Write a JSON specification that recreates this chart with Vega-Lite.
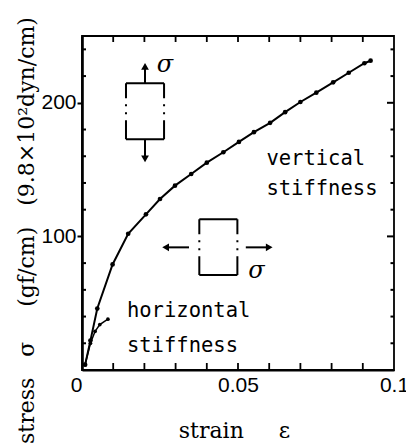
{
  "$schema": "https://vega.github.io/schema/vega-lite/v6.json",
  "autosize": {"type": "none"},
  "padding": {"left": 82, "top": 36, "right": 12, "bottom": 73},
  "width": 312,
  "height": 334,
  "background": "white",
  "config": {
    "view": {"stroke": "black", "strokeWidth": 1.8},
    "axis": {"grid": false, "tickColor": "black", "domainColor": "black", "labelColor": "black", "titleColor": "black"}
  },
  "datasets": {
    "vertical": [
      {"strain": 0.001, "stress": 4},
      {"strain": 0.0027, "stress": 22},
      {"strain": 0.0049, "stress": 46},
      {"strain": 0.0098, "stress": 79},
      {"strain": 0.0148, "stress": 102},
      {"strain": 0.0205, "stress": 116.5},
      {"strain": 0.025, "stress": 128},
      {"strain": 0.0298, "stress": 138},
      {"strain": 0.035, "stress": 146.7},
      {"strain": 0.04, "stress": 155.2},
      {"strain": 0.0453, "stress": 163},
      {"strain": 0.0503, "stress": 170.7},
      {"strain": 0.0551, "stress": 178},
      {"strain": 0.0603, "stress": 185},
      {"strain": 0.0651, "stress": 193},
      {"strain": 0.07, "stress": 200.6},
      {"strain": 0.0751, "stress": 207.6},
      {"strain": 0.0805, "stress": 215.3},
      {"strain": 0.0855, "stress": 222.5},
      {"strain": 0.0905, "stress": 229.6},
      {"strain": 0.0925, "stress": 231.5}
    ],
    "horizontal": [
      {"strain": 0.001, "stress": 4},
      {"strain": 0.0027, "stress": 20},
      {"strain": 0.0042, "stress": 29},
      {"strain": 0.0057, "stress": 34},
      {"strain": 0.0083, "stress": 38}
    ],
    "bottomTicks": [
      {"strain": 0.01, "stress": 0}, {"strain": 0.02, "stress": 0}, {"strain": 0.03, "stress": 0},
      {"strain": 0.04, "stress": 0}, {"strain": 0.05, "stress": 0}, {"strain": 0.06, "stress": 0},
      {"strain": 0.07, "stress": 0}, {"strain": 0.08, "stress": 0}, {"strain": 0.09, "stress": 0}
    ],
    "topTicks": [
      {"strain": 0.01, "stress": 250}, {"strain": 0.02, "stress": 250}, {"strain": 0.03, "stress": 250},
      {"strain": 0.04, "stress": 250}, {"strain": 0.05, "stress": 250}, {"strain": 0.06, "stress": 250},
      {"strain": 0.07, "stress": 250}, {"strain": 0.08, "stress": 250}, {"strain": 0.09, "stress": 250}
    ],
    "leftTicks": [
      {"strain": 0, "stress": 20}, {"strain": 0, "stress": 40}, {"strain": 0, "stress": 60},
      {"strain": 0, "stress": 80}, {"strain": 0, "stress": 120}, {"strain": 0, "stress": 140},
      {"strain": 0, "stress": 160}, {"strain": 0, "stress": 180}, {"strain": 0, "stress": 220},
      {"strain": 0, "stress": 240}
    ],
    "rightTicks": [
      {"strain": 0.1, "stress": 20}, {"strain": 0.1, "stress": 40}, {"strain": 0.1, "stress": 60},
      {"strain": 0.1, "stress": 80}, {"strain": 0.1, "stress": 120}, {"strain": 0.1, "stress": 140},
      {"strain": 0.1, "stress": 160}, {"strain": 0.1, "stress": 180}, {"strain": 0.1, "stress": 220},
      {"strain": 0.1, "stress": 240}
    ],
    "rightMajorTicks": [
      {"strain": 0.1, "stress": 100}, {"strain": 0.1, "stress": 200}
    ],
    "solidSegments": [
      {"xa": 0.0141, "ya": 214.6, "xb": 0.0263, "yb": 214.6},
      {"xa": 0.0141, "ya": 172.7, "xb": 0.0263, "yb": 172.7},
      {"xa": 0.0202, "ya": 214.6, "xb": 0.0202, "yb": 227},
      {"xa": 0.0202, "ya": 172.7, "xb": 0.0202, "yb": 158.5},
      {"xa": 0.0376, "ya": 112.8, "xb": 0.0498, "yb": 112.8},
      {"xa": 0.0376, "ya": 71.1, "xb": 0.0498, "yb": 71.1},
      {"xa": 0.0343, "ya": 91.8, "xb": 0.0268, "yb": 91.8},
      {"xa": 0.0525, "ya": 91.8, "xb": 0.06, "yb": 91.8}
    ],
    "dashedSides": [
      {"xa": 0.0141, "ya": 214.6, "xb": 0.0141, "yb": 172.7},
      {"xa": 0.0263, "ya": 214.6, "xb": 0.0263, "yb": 172.7},
      {"xa": 0.0376, "ya": 112.8, "xb": 0.0376, "yb": 71.1},
      {"xa": 0.0498, "ya": 112.8, "xb": 0.0498, "yb": 71.1}
    ],
    "arrowheads": [
      {"x": 0.0202, "y": 227.2, "dir": "triangle-up"},
      {"x": 0.0202, "y": 158.1, "dir": "triangle-down"},
      {"x": 0.0268, "y": 91.8, "dir": "triangle-left"},
      {"x": 0.06, "y": 91.8, "dir": "triangle-right"}
    ],
    "captions": [
      {"x": 0.0591, "y": 153.4, "text": "vertical"},
      {"x": 0.0591, "y": 131, "text": "stiffness"},
      {"x": 0.0144, "y": 39.9, "text": "horizontal"},
      {"x": 0.0144, "y": 13.7, "text": "stiffness"}
    ],
    "sigmas": [
      {"x": 0.0266, "y": 223, "text": "σ"},
      {"x": 0.0559, "y": 69, "text": "σ"}
    ]
  },
  "layer": [
    {
      "data": {"name": "vertical"},
      "mark": {"type": "line", "color": "black", "strokeWidth": 2, "point": {"filled": true, "color": "black", "size": 22}},
      "encoding": {
        "x": {
          "field": "strain", "type": "quantitative",
          "scale": {"domain": [0, 0.1], "nice": false, "zero": false},
          "axis": {
            "orient": "bottom",
            "values": [0, 0.05, 0.1],
            "format": "~g",
            "labelAlign": {"condition": {"test": "datum.value === 0", "value": "right"}, "value": "center"},
            "labelFont": "Liberation Sans", "labelFontSize": 21,
            "labelFlush": false, "labelOverlap": false, "labelPadding": 4,
            "ticks": false,
            "domainWidth": 2.2,
            "title": "strain\u00a0\u00a0\u00a0\u00a0\u00a0ε",
            "titleFont": "DejaVu Serif", "titleFontSize": 22, "titleFontWeight": "normal",
            "titleX": 152, "titleY": 67, "titleAlign": "center", "titleBaseline": "alphabetic"
          }
        },
        "y": {
          "field": "stress", "type": "quantitative",
          "scale": {"domain": [0, 250], "nice": false},
          "axis": {
            "orient": "left",
            "values": [100, 200],
            "labelFont": "Liberation Sans", "labelFontSize": 21,
            "labelPadding": 1, "labelOverlap": false,
            "tickSize": 5, "tickWidth": 2,
            "domainWidth": 2.6,
            "title": "stress\u00a0\u00a0\u00a0σ\u00a0\u00a0\u00a0\u00a0\u00a0(gf/cm)\u00a0\u00a0\u00a0(9.8×10²dyn/cm)",
            "titleFont": "DejaVu Serif", "titleFontSize": 22, "titleFontWeight": "normal",
            "titleAngle": 270, "titleX": -49, "titleY": 194, "titleAlign": "center", "titleBaseline": "alphabetic"
          }
        }
      }
    },
    {
      "data": {"name": "horizontal"},
      "mark": {"type": "line", "color": "black", "strokeWidth": 1.5, "point": {"filled": true, "color": "black", "size": 14}},
      "encoding": {
        "x": {"field": "strain", "type": "quantitative"},
        "y": {"field": "stress", "type": "quantitative"}
      }
    },
    {
      "data": {"name": "bottomTicks"},
      "mark": {"type": "point", "shape": "M0,0L0,-1", "size": 196, "filled": false, "color": "black", "strokeWidth": 1.8, "opacity": 1},
      "encoding": {
        "x": {"field": "strain", "type": "quantitative"},
        "y": {"field": "stress", "type": "quantitative"}
      }
    },
    {
      "data": {"name": "topTicks"},
      "mark": {"type": "point", "shape": "M0,0L0,1", "size": 144, "filled": false, "color": "black", "strokeWidth": 1.8, "opacity": 1},
      "encoding": {
        "x": {"field": "strain", "type": "quantitative"},
        "y": {"field": "stress", "type": "quantitative"}
      }
    },
    {
      "data": {"name": "leftTicks"},
      "mark": {"type": "point", "shape": "M0,0L1,0", "size": 64, "filled": false, "color": "black", "strokeWidth": 2, "opacity": 1},
      "encoding": {
        "x": {"field": "strain", "type": "quantitative"},
        "y": {"field": "stress", "type": "quantitative"}
      }
    },
    {
      "data": {"name": "rightTicks"},
      "mark": {"type": "point", "shape": "M0,0L-1,0", "size": 49, "filled": false, "color": "black", "strokeWidth": 2, "opacity": 1},
      "encoding": {
        "x": {"field": "strain", "type": "quantitative"},
        "y": {"field": "stress", "type": "quantitative"}
      }
    },
    {
      "data": {"name": "rightMajorTicks"},
      "mark": {"type": "point", "shape": "M0,0L-1,0", "size": 196, "filled": false, "color": "black", "strokeWidth": 2, "opacity": 1},
      "encoding": {
        "x": {"field": "strain", "type": "quantitative"},
        "y": {"field": "stress", "type": "quantitative"}
      }
    },
    {
      "data": {"name": "solidSegments"},
      "mark": {"type": "rule", "color": "black", "strokeWidth": 2},
      "encoding": {
        "x": {"field": "xa", "type": "quantitative"},
        "x2": {"field": "xb"},
        "y": {"field": "ya", "type": "quantitative"},
        "y2": {"field": "yb"}
      }
    },
    {
      "data": {"name": "dashedSides"},
      "mark": {"type": "rule", "color": "black", "strokeWidth": 2, "strokeDash": [15, 6, 2, 6, 2, 6, 20]},
      "encoding": {
        "x": {"field": "xa", "type": "quantitative"},
        "x2": {"field": "xb"},
        "y": {"field": "ya", "type": "quantitative"},
        "y2": {"field": "yb"}
      }
    },
    {
      "data": {"name": "arrowheads"},
      "mark": {"type": "point", "filled": true, "color": "black", "size": 60, "opacity": 1},
      "encoding": {
        "x": {"field": "x", "type": "quantitative"},
        "y": {"field": "y", "type": "quantitative"},
        "shape": {"field": "dir", "type": "nominal", "scale": null, "legend": null}
      }
    },
    {
      "data": {"name": "captions"},
      "mark": {"type": "text", "font": "DejaVu Sans Mono", "fontSize": 20.5, "align": "left", "baseline": "alphabetic", "color": "black"},
      "encoding": {
        "x": {"field": "x", "type": "quantitative"},
        "y": {"field": "y", "type": "quantitative"},
        "text": {"field": "text"}
      }
    },
    {
      "data": {"name": "sigmas"},
      "mark": {"type": "text", "font": "DejaVu Serif", "fontStyle": "italic", "fontSize": 24, "align": "center", "baseline": "alphabetic", "color": "black"},
      "encoding": {
        "x": {"field": "x", "type": "quantitative"},
        "y": {"field": "y", "type": "quantitative"},
        "text": {"field": "text"}
      }
    }
  ]
}
